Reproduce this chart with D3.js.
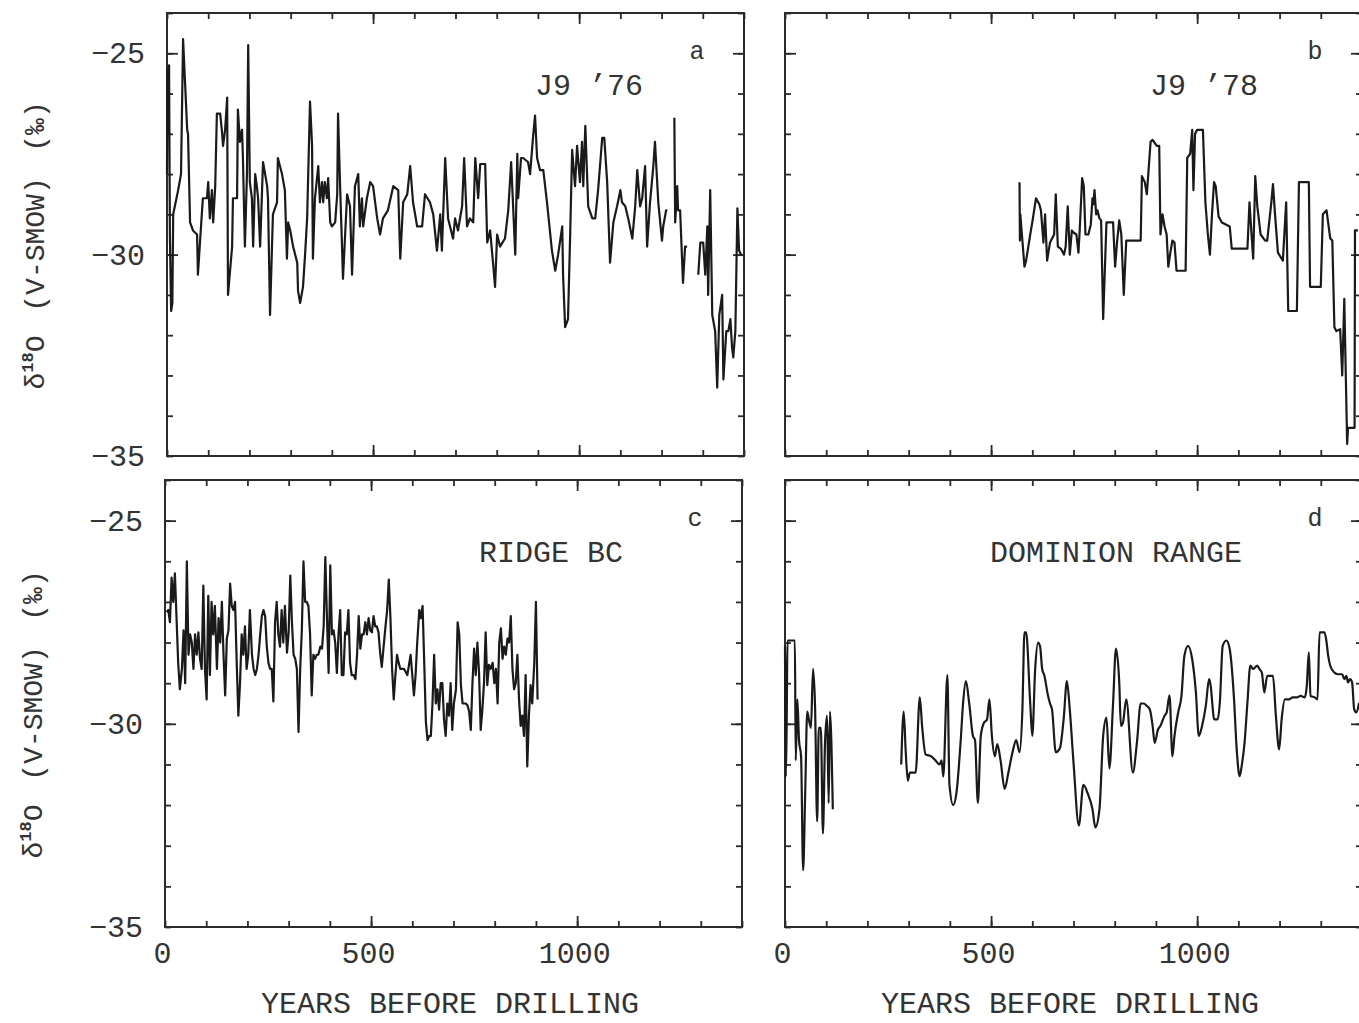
<!DOCTYPE html>
<html>
<head>
<meta charset="utf-8">
<script src="https://cdn.jsdelivr.net/npm/d3@7"></script>
<style>
  body { margin: 0; background: #fff; }
  svg { display: block; }
  text { font-family: "Liberation Mono", "DejaVu Sans Mono", monospace; fill: #333; }
</style>
</head>
<body>
<svg id="chart"></svg>
<script>
const width = 1359;
const height = 1023;

// d18O records, [years before drilling, permil]; null = gap in record
const j976 = [
  [0,-28.0],[1,-25.4],[3,-27.0],[5,-25.3],[7,-29.5],[10,-31.4],[13,-31.2],[15,-29.0],
  [27,-28.4],[34,-28.0],[39,-24.65],[49,-26.9],[51,-27.0],[56,-29.2],[63,-29.4],[73,-29.5],[75,-30.5],[80,-29.7],
  [87,-28.6],[97,-28.6],[100,-28.2],[104,-29.1],[109,-28.4],[112,-29.2],[117,-28.3],[121,-26.5],[129,-26.5],[133,-26.9],
  [136,-27.3],[141,-26.9],[146,-26.1],[148,-31.0],[158,-29.8],[160,-28.6],[170,-28.6],[172,-26.4],[177,-27.2],[182,-26.9],
  [184,-27.5],[189,-29.8],[194,-28.0],[197,-24.8],[201,-28.2],[206,-28.6],[209,-29.8],[214,-28.0],[218,-28.3],[221,-28.6],
  [226,-29.8],[233,-27.7],[243,-28.3],[245,-28.6],[250,-31.5],[257,-29.0],[267,-28.7],[269,-27.6],[279,-28.0],[286,-28.4],
  [291,-30.1],[294,-29.2],[299,-29.4],[306,-29.8],[316,-30.2],[318,-30.9],[323,-31.2],[330,-30.8],[335,-30.0],[340,-29.1],
  [347,-26.2],[352,-27.3],[354,-30.1],[359,-28.6],[367,-27.8],[371,-28.7],[376,-28.2],[379,-28.7],[383,-28.2],[388,-28.6],
  [391,-28.1],[396,-29.2],[400,-29.3],[408,-29.2],[413,-28.5],[415,-26.5],[420,-28.3],[425,-29.9],[427,-30.6],[437,-28.5],
  [444,-28.8],[449,-30.5],[456,-28.3],[464,-28.0],[468,-29.3],[473,-28.6],[476,-29.3],[485,-28.6],[493,-28.2],[500,-28.3],
  [510,-29.1],[517,-29.5],[524,-29.1],[536,-28.9],[549,-28.3],[561,-28.4],[566,-30.1],[573,-28.7],[583,-28.5],[590,-27.8],
  [597,-28.7],[607,-29.3],[619,-29.3],[626,-28.5],[638,-28.7],[646,-29.0],[655,-29.9],[663,-29.0],[667,-29.9],[675,-27.6],
  [682,-29.1],[694,-29.6],[699,-29.1],[706,-29.4],[716,-28.8],[721,-27.6],[728,-29.3],[735,-29.1],[743,-29.2],[748,-27.6],
  [755,-28.6],[760,-27.75],[772,-27.75],[777,-29.7],[784,-29.4],[791,-30.2],[796,-30.8],[801,-29.5],[808,-29.8],[820,-29.6],
  [828,-28.9],[835,-27.7],[845,-30.0],[850,-27.5],[852,-28.6],[859,-27.6],[864,-27.6],[876,-27.7],[881,-28.0],[888,-27.1],
  [893,-26.55],[898,-27.6],[905,-27.9],[913,-27.9],[922,-28.7],[934,-29.9],[942,-30.4],[949,-30.0],[959,-29.3],[961,-30.5],
  [966,-31.8],[973,-31.6],[978,-29.6],[983,-27.4],[990,-28.3],[995,-27.3],[1002,-28.2],[1007,-27.2],[1010,-28.3],[1015,-26.8],
  [1022,-28.8],[1032,-29.1],[1039,-29.1],[1046,-28.4],[1056,-27.1],[1061,-27.1],[1068,-28.2],[1075,-30.2],[1083,-29.2],
  [1092,-28.8],[1100,-28.4],[1104,-28.7],[1112,-28.8],[1119,-29.1],[1129,-29.6],[1136,-28.8],[1141,-27.9],[1148,-28.8],
  [1153,-28.6],[1160,-27.8],[1165,-29.8],[1172,-28.7],[1180,-27.8],[1184,-27.2],[1192,-28.7],[1201,-29.65],[1204,-29.3],
  [1211,-28.9],[1214,-28.9],
  [1222,null],
  [1231,-26.6],[1233,-29.2],[1238,-28.3],[1240,-28.9],[1245,-28.9],[1252,-30.7],[1257,-29.8],[1262,-29.8],
  [1275,null],
  [1289,-30.5],[1294,-29.7],[1301,-29.7],[1306,-30.5],[1311,-29.3],[1313,-31.0],[1318,-28.4],[1323,-31.5],[1330,-31.9],
  [1335,-33.3],[1340,-31.5],[1347,-31.0],[1350,-33.1],[1357,-31.9],[1362,-31.9],[1367,-31.6],[1371,-32.3],[1374,-32.55],
  [1379,-31.9],[1384,-28.85],[1388,-29.9],[1393,-30.0]
];

const j978 = [
  [569,-28.2],[570,-29.65],[571,-29.0],[576,-29.65],[581,-30.3],[585,-30.15],[595,-29.5],[600,-29.2],[609,-28.6],
  [617,-28.75],[621,-28.9],[627,-29.7],[631,-29.0],[636,-30.15],[643,-29.7],[648,-29.6],[653,-29.5],[657,-28.5],
  [662,-29.8],[669,-29.85],[677,-30.0],[681,-29.8],[686,-28.8],[691,-30.0],[696,-29.4],[700,-29.45],[707,-29.5],
  [712,-29.95],[715,-29.4],[721,-28.1],[725,-28.3],[729,-29.5],[736,-29.5],[742,-29.25],[746,-28.6],[748,-28.75],
  [751,-28.4],[755,-29.0],[758,-28.9],[763,-29.1],[767,-29.15],[772,-31.6],[780,-29.2],[796,-29.2],[801,-30.3],
  [806,-29.65],[811,-29.15],[816,-29.5],[822,-31.0],[828,-29.65],[863,-29.65],[866,-28.05],[873,-28.2],[878,-28.5],
  [887,-27.2],[892,-27.15],[902,-27.3],[908,-27.3],[911,-29.5],[916,-29.0],[921,-29.3],[926,-29.5],[930,-30.3],
  [935,-29.95],[940,-29.65],[945,-29.7],[950,-30.4],[972,-30.4],[976,-27.6],[983,-27.5],[988,-26.9],[991,-28.4],
  [995,-27.0],[1000,-26.9],[1014,-26.9],[1020,-28.7],[1026,-29.5],[1031,-30.0],[1036,-29.0],[1041,-28.2],[1045,-28.3],
  [1052,-29.05],[1060,-29.2],[1079,-29.3],[1084,-29.85],[1122,-29.85],[1127,-28.7],[1132,-29.5],[1136,-30.1],
  [1141,-28.05],[1146,-28.8],[1154,-29.5],[1165,-29.65],[1170,-29.65],[1180,-28.7],[1184,-28.25],[1189,-29.0],
  [1196,-29.95],[1208,-30.15],[1216,-28.7],[1221,-31.4],[1242,-31.4],[1247,-28.2],[1271,-28.2],[1274,-30.8],
  [1300,-30.8],[1305,-29.0],[1314,-28.9],[1323,-29.6],[1328,-29.65],[1333,-31.8],[1338,-31.9],[1347,-31.85],
  [1352,-33.0],[1357,-31.1],[1364,-34.7],[1366,-34.3],[1382,-34.3],[1383,-29.4],[1390,-29.4]
];

const ridgeBC = [
  [4,-27.25],[8,-27.2],[12,-27.5],[16,-26.4],[20,-27.0],[24,-26.3],[28,-27.4],[32,-28.5],[36,-29.15],[41,-28.65],
  [45,-27.7],[49,-29.0],[53,-26.0],[57,-28.3],[61,-27.8],[65,-28.0],[69,-28.65],[73,-27.8],[77,-28.3],[81,-27.75],
  [85,-28.4],[89,-28.65],[93,-26.6],[97,-28.65],[101,-29.4],[105,-26.85],[109,-28.8],[113,-27.0],[117,-27.8],[121,-27.1],
  [126,-28.65],[130,-27.4],[134,-28.0],[138,-27.0],[142,-28.3],[146,-29.3],[150,-27.9],[154,-27.7],[158,-26.55],[162,-27.1],
  [166,-27.2],[170,-27.0],[174,-28.5],[178,-29.8],[182,-29.0],[186,-27.8],[190,-28.3],[194,-27.6],[198,-28.65],[202,-28.3],
  [206,-27.2],[211,-28.3],[215,-28.65],[219,-28.8],[223,-28.65],[227,-28.3],[231,-27.8],[235,-27.35],[239,-27.2],[243,-27.35],
  [247,-28.1],[251,-28.5],[255,-28.65],[259,-28.65],[263,-29.45],[267,-27.5],[271,-27.0],[275,-27.8],[279,-28.1],[283,-27.2],
  [287,-28.0],[291,-27.1],[296,-28.25],[300,-27.75],[304,-26.35],[308,-27.5],[312,-28.3],[316,-28.4],[320,-28.65],[324,-30.2],
  [328,-28.65],[332,-27.7],[336,-26.0],[340,-27.0],[344,-27.0],[348,-27.1],[352,-27.8],[356,-29.3],[360,-28.3],[364,-28.4],
  [368,-28.3],[372,-28.3],[377,-28.1],[381,-28.15],[385,-27.6],[389,-25.9],[393,-27.4],[397,-28.75],[401,-26.1],[405,-27.8],
  [409,-27.7],[413,-28.0],[417,-28.75],[421,-27.8],[425,-27.2],[429,-28.8],[433,-28.8],[437,-27.75],[441,-27.8],[445,-27.2],
  [449,-28.5],[453,-28.8],[458,-28.8],[462,-28.9],[466,-28.3],[470,-27.35],[474,-28.15],[478,-27.8],[482,-27.8],[486,-27.5],
  [490,-27.8],[494,-27.4],[498,-27.7],[502,-27.75],[506,-27.35],[510,-27.6],[514,-27.6],[518,-27.75],[522,-28.25],[526,-28.6],
  [530,-28.15],[535,-27.6],[539,-27.2],[543,-26.45],[547,-27.4],[551,-28.65],[555,-29.4],[559,-28.8],[563,-28.3],[567,-28.5],
  [571,-28.65],[580,-28.65],[588,-28.8],[596,-28.3],[604,-29.3],[608,-28.8],[612,-28.0],[617,-27.2],[621,-27.4],[625,-27.1],
  [629,-28.5],[633,-29.95],[637,-30.4],[641,-30.3],[645,-30.3],[649,-29.5],[653,-28.3],[657,-29.5],[661,-29.15],[665,-29.65],
  [669,-29.0],[673,-29.0],[677,-29.9],[681,-30.3],[685,-29.5],[689,-29.8],[693,-29.0],[697,-30.15],[701,-29.5],[706,-29.15],
  [710,-27.5],[714,-27.8],[718,-29.05],[722,-29.5],[726,-29.5],[730,-29.5],[734,-29.55],[738,-29.7],[742,-30.15],[746,-29.0],
  [750,-28.15],[754,-28.8],[758,-28.0],[762,-28.75],[766,-30.15],[770,-29.65],[774,-29.0],[778,-27.75],[782,-29.05],[786,-28.55],
  [790,-28.65],[795,-28.5],[799,-29.0],[803,-28.65],[807,-29.5],[811,-28.0],[815,-27.65],[819,-28.4],[823,-28.1],[827,-28.3],
  [831,-27.9],[835,-28.0],[839,-27.35],[843,-28.65],[847,-29.15],[851,-29.0],[855,-28.3],[859,-29.4],[863,-30.05],[867,-29.8],
  [871,-30.3],[875,-28.8],[879,-31.05],[883,-29.8],[887,-29.05],[891,-29.5],[896,-28.5],[900,-27.0],[904,-29.4]
];

const dominion = [
  [0,-28.1],[2,-31.3],[4,-30.1],[6,-27.95],[24,-27.95],[26,-30.9],[30,-29.4],[34,-30.4],[39,-30.8],[44,-33.6],
  [49,-31.7],[54,-29.7],[58,-29.9],[63,-30.1],[68,-28.65],[73,-29.6],[78,-32.4],[82,-30.1],[87,-30.1],[92,-32.7],
  [97,-30.5],[102,-29.8],[106,-31.95],[109,-29.7],[116,-32.1],
  [200,null],
  [282,-31.0],[288,-29.7],[293,-30.7],[298,-31.4],[303,-31.2],[317,-31.2],[327,-29.35],[333,-30.1],[341,-30.75],
  [355,-30.8],[365,-30.9],[375,-31.0],[380,-30.9],[384,-31.3],[394,-28.8],[399,-31.5],[408,-32.0],[416,-31.7],
  [427,-30.3],[432,-29.5],[439,-28.95],[447,-29.5],[456,-30.3],[461,-30.4],[468,-31.95],[475,-30.3],[483,-29.97],
  [490,-29.9],[496,-29.4],[502,-30.3],[509,-30.8],[515,-30.5],[523,-30.9],[533,-31.6],[542,-31.2],[552,-30.7],
  [561,-30.4],[569,-30.7],[576,-29.65],[581,-27.75],[585,-27.75],[595,-29.5],[600,-30.3],[607,-28.65],[614,-28.0],
  [619,-28.1],[624,-28.65],[629,-28.8],[638,-29.3],[643,-29.5],[648,-29.65],[657,-30.7],[667,-30.6],[676,-29.9],
  [684,-28.95],[691,-29.65],[700,-30.95],[713,-32.5],[724,-31.5],[734,-31.7],[746,-32.1],[753,-32.55],[763,-32.1],
  [772,-30.3],[780,-29.85],[787,-31.1],[796,-29.5],[803,-28.15],[811,-28.98],[815,-30.05],[820,-29.97],[828,-29.4],
  [844,-31.2],[854,-30.45],[863,-29.5],[870,-29.5],[878,-29.56],[885,-29.64],[892,-30.05],[897,-30.47],[905,-30.14],
  [911,-30.05],[921,-29.8],[926,-29.72],[933,-29.3],[940,-30.8],[945,-30.3],[954,-29.72],[962,-29.31],[969,-28.33],
  [978,-28.08],[988,-28.41],[997,-29.23],[1004,-30.3],[1012,-30.05],[1021,-29.56],[1029,-28.9],[1033,-29.07],
  [1038,-29.64],[1041,-29.89],[1050,-29.89],[1055,-29.48],[1062,-28.08],[1071,-27.95],[1079,-28.16],[1089,-29.31],
  [1096,-30.63],[1103,-31.29],[1108,-31.04],[1115,-30.47],[1122,-29.48],[1129,-28.57],[1136,-28.65],[1146,-28.57],
  [1151,-28.65],[1157,-28.74],[1163,-29.23],[1170,-28.82],[1180,-28.82],[1184,-28.82],[1191,-29.8],[1199,-30.63],
  [1205,-29.89],[1213,-29.4],[1223,-29.4],[1232,-29.35],[1242,-29.35],[1251,-29.31],[1261,-29.35],[1266,-29.07],
  [1271,-28.24],[1275,-29.31],[1285,-29.35],[1292,-29.4],[1297,-27.75],[1309,-27.75],[1314,-27.99],[1318,-28.33],
  [1323,-28.57],[1333,-28.74],[1342,-28.78],[1352,-28.78],[1357,-28.9],[1362,-28.82],[1366,-28.98],[1371,-28.9],
  [1376,-28.98],[1381,-29.64],[1386,-29.72],[1393,-29.48]
];

const xTickLabels = [0, 500, 1000];
const yTickLabels = [-25, -30, -35];
const xMinorTicks = d3.range(0, 1401, 100);
const yMinorTicks = d3.range(-35, -23, 1);
const xDomain = [0, 1400];
const yDomain = [-35, -24];

const panels = [
  { data: j976,     letter: "a", title: "J9 \u201976",     left: 167, top: 13,  w: 577, h: 443, titleX: 368, yLabels: true,  xLabels: false, curve: d3.curveLinear },
  { data: j978,     letter: "b", title: "J9 \u201978",     left: 785, top: 13,  w: 577, h: 443, titleX: 365, yLabels: false, xLabels: false, curve: d3.curveLinear },
  { data: ridgeBC,  letter: "c", title: "RIDGE BC",       left: 165, top: 480, w: 577, h: 447, titleX: 314, yLabels: true,  xLabels: true,  curve: d3.curveLinear },
  { data: dominion, letter: "d", title: "DOMINION RANGE", left: 785, top: 480, w: 577, h: 447, titleX: 205, yLabels: false, xLabels: true,  curve: d3.curveMonotoneX }
];

const ink = "#2b2b2b";
const monoFont = "'Liberation Mono', 'DejaVu Sans Mono', monospace";

const svg = d3.select("#chart")
  .attr("width", width)
  .attr("height", height)
  .style("background", "#fff");

panels.forEach(p => {
  const g = svg.append("g").attr("transform", `translate(${p.left},${p.top})`);
  const x = d3.scaleLinear().domain(xDomain).range([0, p.w]);
  const y = d3.scaleLinear().domain(yDomain).range([p.h, 0]);

  // ticks on all four sides, pointing inward
  const minorLen = 6, majorLen = 11;
  const tickAxis = (axis, tr) => {
    const a = g.append("g").attr("transform", tr).call(axis);
    a.select(".domain").remove();
    a.selectAll("line").attr("stroke", ink).attr("stroke-width", 1.8);
    a.selectAll("text").remove();
  };
  tickAxis(d3.axisBottom(x).tickValues(xMinorTicks).tickSize(-minorLen), `translate(0,${p.h})`);
  tickAxis(d3.axisBottom(x).tickValues([500, 1000]).tickSize(-majorLen), `translate(0,${p.h})`);
  tickAxis(d3.axisTop(x).tickValues(xMinorTicks).tickSize(-minorLen), "translate(0,0)");
  tickAxis(d3.axisTop(x).tickValues([500, 1000]).tickSize(-majorLen), "translate(0,0)");
  tickAxis(d3.axisLeft(y).tickValues(yMinorTicks).tickSize(-minorLen), "translate(0,0)");
  tickAxis(d3.axisLeft(y).tickValues([-25, -30]).tickSize(-majorLen), "translate(0,0)");
  tickAxis(d3.axisRight(y).tickValues(yMinorTicks).tickSize(-minorLen), `translate(${p.w},0)`);
  tickAxis(d3.axisRight(y).tickValues([-25, -30]).tickSize(-majorLen), `translate(${p.w},0)`);

  // frame
  g.append("rect")
    .attr("width", p.w).attr("height", p.h)
    .attr("fill", "none").attr("stroke", ink).attr("stroke-width", 2);

  // data
  const line = d3.line()
    .defined(d => d[1] !== null)
    .x(d => x(d[0]))
    .y(d => y(d[1]))
    .curve(p.curve);
  g.append("path")
    .datum(p.data)
    .attr("d", line)
    .attr("fill", "none")
    .attr("stroke", "#1a1a1a")
    .attr("stroke-width", 2.2)
    .attr("stroke-linejoin", "round");

  // labels
  g.append("text")
    .attr("x", p.titleX).attr("y", 82)
    .attr("font-size", 30)
    .text(p.title);
  g.append("text")
    .attr("x", 530).attr("y", 46)
    .attr("text-anchor", "middle")
    .attr("font-size", 25)
    .text(p.letter);

  if (p.yLabels) {
    const ya = g.append("g").call(d3.axisLeft(y).tickValues(yTickLabels).tickSize(0).tickPadding(22).tickFormat(d3.format("d")));
    ya.select(".domain").remove();
    ya.selectAll("text")
      .attr("font-size", 30)
      .style("font-family", monoFont)
      .attr("fill", ink);

    const yt = g.append("g").attr("font-size", 28);
    const yc = p.h / 2;
    yt.append("text")
      .attr("transform", `translate(-123,${yc - 108}) rotate(-90)`)
      .attr("text-anchor", "middle")
      .text("(\u2030)");
    yt.append("text")
      .attr("transform", `translate(-123,${yc + 10}) rotate(-90)`)
      .attr("text-anchor", "middle")
      .text("(V-SMOW)");
    const d18 = yt.append("text")
      .attr("transform", `translate(-123,${yc + 128}) rotate(-90)`)
      .attr("text-anchor", "middle");
    d18.append("tspan").text("\u03b4");
    d18.append("tspan").attr("font-size", 17).attr("font-weight", "bold").attr("dy", -11).text("18");
    d18.append("tspan").attr("dy", 11).text("O");
  }

  if (p.xLabels) {
    const xa = g.append("g")
      .attr("transform", `translate(-3,${p.h})`)
      .call(d3.axisBottom(x).tickValues(xTickLabels).tickSize(0).tickPadding(15).tickFormat(d3.format("d")));
    xa.select(".domain").remove();
    xa.selectAll("text")
      .attr("font-size", 30)
      .style("font-family", monoFont)
      .attr("fill", ink);

    g.append("text")
      .attr("x", 285).attr("y", p.h + 86)
      .attr("text-anchor", "middle")
      .attr("font-size", 30)
      .text("YEARS BEFORE DRILLING");
  }
});
</script>
</body>
</html>
